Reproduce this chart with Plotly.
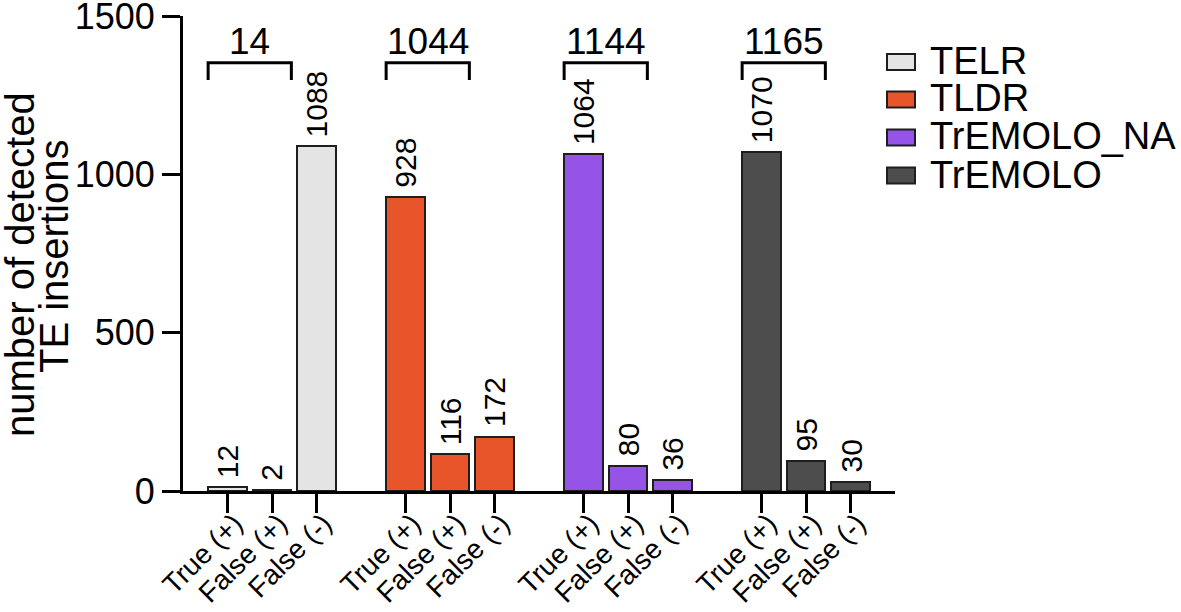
import plotly.graph_objects as go

# ---- data ----
categories = ["True (+)", "False (+)", "False (-)"]
tools = ["TELR", "TLDR", "TrEMOLO_NA", "TrEMOLO"]
telr = [12, 2, 1088]
tldr = [928, 116, 172]
tremolo_na = [1064, 80, 36]
tremolo = [1070, 95, 30]
bracket_labels = ["14", "1044", "1144", "1165"]
y_ticks = [0, 500, 1000, 1500]

series = [telr, tldr, tremolo_na, tremolo]
colors = ["#e4e4e4", "#e9552a", "#9553e8", "#4d4d4d"]
outline = "#1e1e1e"
FONT = "Liberation Sans, Arial, Helvetica, sans-serif"

# geometry (pixels)
W, H = 1181, 612
PLOT_L, PLOT_R, PLOT_T, PLOT_B = 183, 895, 16, 491
L, T = PLOT_L, PLOT_T
R, B = W - PLOT_R, H - PLOT_B
PW = PLOT_R - PLOT_L
PH = PLOT_B - PLOT_T

def px_x(p):
    return (p - PLOT_L) / PW

def px_y(p):
    return (PLOT_B - p) / PH

GROUP_STEP = 4
BAR_W = 0.87

fig = go.Figure()
tickvals, ticktext = [], []
for g, (name, vals, col) in enumerate(zip(tools, series, colors)):
    xs = [g * GROUP_STEP + i for i in range(len(vals))]
    tickvals += xs
    ticktext += categories
    fig.add_trace(go.Bar(
        x=xs, y=vals, name=name, width=BAR_W,
        marker=dict(color=col, line=dict(color=outline, width=2)),
        cliponaxis=False, showlegend=False,
    ))
    for xv, v in zip(xs, vals):
        fig.add_annotation(
            x=xv, y=v, text=str(v), textangle=-90, showarrow=False,
            xanchor="center", yanchor="bottom", yshift=7,
            font=dict(size=30, color="black", family=FONT),
        )
    # bracket over first two bars
    x0 = xs[0] - BAR_W / 2
    x1 = xs[1] + BAR_W / 2
    fig.add_trace(go.Scatter(
        x=[x0, x0, x1, x1], y=[1298, 1352, 1352, 1298], mode="lines",
        line=dict(color="black", width=3), showlegend=False,
        hoverinfo="skip", cliponaxis=False,
    ))
    fig.add_annotation(
        x=(xs[0] + xs[1]) / 2, y=1420, yanchor="middle", xanchor="center",
        text=bracket_labels[g], showarrow=False,
        font=dict(size=37, color="black", family=FONT),
    )

# custom legend
leg_rows = [62, 99.5, 137.5, 175.5]
for name, col, py in zip(tools, colors, leg_rows):
    fig.add_shape(
        type="rect", xref="paper", yref="paper",
        x0=px_x(887), x1=px_x(915), y0=px_y(py + 8), y1=px_y(py - 8),
        fillcolor=col, line=dict(color=outline, width=2),
    )
    fig.add_annotation(
        xref="paper", yref="paper", x=px_x(928), y=px_y(py - 1),
        xanchor="left", yanchor="middle", text=name, showarrow=False,
        font=dict(size=38, color="black", family=FONT),
    )

# y axis title (two lines)
for txt, cx, cy in [("number of detected", 20, 265), ("TE insertions", 54, 257)]:
    fig.add_annotation(
        xref="paper", yref="paper", x=px_x(cx), y=px_y(cy),
        xanchor="center", yanchor="middle", text=txt, textangle=-90,
        showarrow=False, font=dict(size=40, color="black", family=FONT),
    )

fig.update_layout(
    width=W, height=H,
    margin=dict(l=L, r=R, t=T, b=B, pad=0, autoexpand=False),
    plot_bgcolor="white", paper_bgcolor="white",
    barmode="overlay", bargap=0,
    font=dict(family=FONT, color="black"),
    xaxis=dict(
        range=[-1, 15], tickvals=tickvals, ticktext=ticktext,
        tickangle=-45, ticks="outside", ticklen=19, tickwidth=3,
        tickcolor="black", showline=True, linecolor="black", linewidth=3,
        showgrid=False, zeroline=False, automargin=False,
        ticklabeloverflow="allow", ticklabelstandoff=-17, ticklabelshift=7,
        tickfont=dict(size=28, color="black", family=FONT),
    ),
    yaxis=dict(
        range=[0, 1500], tickvals=y_ticks, ticks="outside", ticklen=18,
        tickwidth=3, tickcolor="black", showline=True, linecolor="black",
        linewidth=3, showgrid=False, zeroline=False, automargin=False,
        ticklabeloverflow="allow",
        tickfont=dict(size=36, color="black", family=FONT),
    ),
)

fig.write_html(
    "out.html",
    config={"displayModeBar": False},
    post_script="document.body.style.margin='0';document.body.style.overflow='hidden';",
)
